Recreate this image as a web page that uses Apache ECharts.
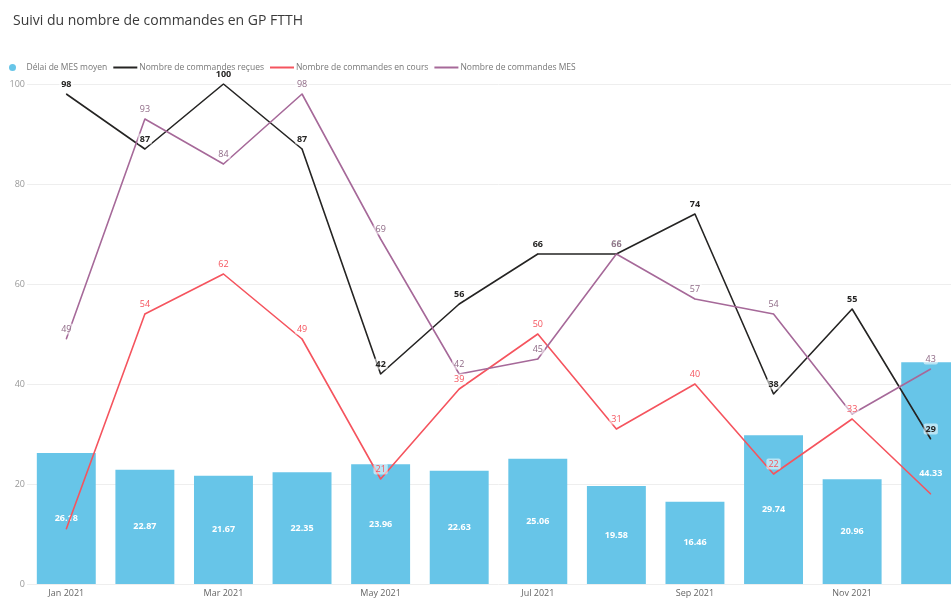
<!DOCTYPE html>
<html>
<head>
<meta charset="utf-8">
<script src="https://cdn.jsdelivr.net/npm/echarts@6/dist/echarts.min.js"></script>
<style>
html,body{margin:0;padding:0;background:#fff;overflow:hidden;width:951px;height:600px;}
#c{width:970px;height:600px;}
</style>
</head>
<body>
<div id="c"></div>
<script>
const months = ['Jan 2021','Feb 2021','Mar 2021','Apr 2021','May 2021','Jun 2021','Jul 2021','Aug 2021','Sep 2021','Oct 2021','Nov 2021','Dec 2021'];
const delaiMES = [26.18, 22.87, 21.67, 22.35, 23.96, 22.63, 25.06, 19.58, 16.46, 29.74, 20.96, 44.33];
const recues = [98, 87, 100, 87, 42, 56, 66, 66, 74, 38, 55, 29];
const enCours = [11, 54, 62, 49, 21, 39, 50, 31, 40, 22, 33, 18];
const mes = [49, 93, 84, 98, 69, 42, 45, 66, 57, 54, 34, 43];
// labels hidden in the reference (overlapping) : indices per series
const hiddenEnCours = [0, 11];
const hiddenMes = [10];
const yTicks = [0, 20, 40, 60, 80, 100];

const FONT = '"Open Sans", "Noto Sans", sans-serif';
const names = ['Délai de MES moyen','Nombre de commandes reçues','Nombre de commandes en cours','Nombre de commandes MES'];
const lineIcon = 'path://M0,0L24,0L24,2L0,2Z';

function withHidden(arr, hidden){
  return arr.map((v,i)=> hidden.indexOf(i)>=0 ? {value:v, label:{show:false}} : v);
}
function lineSeries(name, data, color, labelColor, bold){
  return {
    name: name, type: 'line', data: data,
    symbol: 'circle', symbolSize: 1, showSymbol: true,
    lineStyle: {color: color, width: 1.6},
    itemStyle: {color: color},
    label: {show: true, position: 'top', distance: 4, color: labelColor,
      fontSize: 9, fontFamily: FONT, fontWeight: bold ? 'bold' : 'normal',
      backgroundColor: 'rgba(255,255,255,0.55)', padding: [1,2], borderRadius: 2},
    z: 3
  };
}

const chart = echarts.init(document.getElementById('c'));
chart.setOption({
  animation: false,
  title: {text: 'Suivi du nombre de commandes en GP FTTH', left: 8, top: 9,
    textStyle: {fontSize: 14, fontWeight: 'normal', color: '#3a3a3a', fontFamily: FONT}},
  legend: {
    left: 4, top: 58, itemGap: 6, itemWidth: 24, itemHeight: 7, symbolKeepAspect: true,
    textStyle: {fontSize: 8.5, color: '#777', fontFamily: FONT, padding: [0,0,0,-3]},
    data: [{name: names[0], icon: 'circle'},
           {name: names[1], icon: lineIcon},
           {name: names[2], icon: lineIcon},
           {name: names[3], icon: lineIcon}]
  },
  grid: {left: 27, top: 84, right: 0, bottom: 16, containLabel: false},
  xAxis: {
    type: 'category', data: months,
    axisLine: {show: false}, axisTick: {show: false},
    axisLabel: {interval: 1, fontSize: 9, color: '#666', fontFamily: FONT, margin: 5}
  },
  yAxis: {
    type: 'value', min: yTicks[0], max: yTicks[yTicks.length-1], interval: 20,
    axisLine: {show: false}, axisTick: {show: false},
    axisLabel: {fontSize: 9, color: '#999', fontFamily: FONT, margin: 2},
    splitLine: {lineStyle: {color: '#eeeeee', width: 1}}
  },
  series: [
    {
      name: names[0], type: 'bar', data: delaiMES, barCategoryGap: '25%',
      itemStyle: {color: '#67C5E8'},
      label: {show: true, position: 'inside', color: '#fff', fontSize: 9,
        fontWeight: 'bold', fontFamily: FONT, formatter: p => p.value.toFixed(2)},
      z: 2
    },
    lineSeries(names[1], recues, '#252423', '#252423', true),
    lineSeries(names[2], withHidden(enCours, hiddenEnCours), '#F5545E', '#F5545E', false),
    lineSeries(names[3], withHidden(mes, hiddenMes), '#A66999', '#8f6a86', false)
  ]
});
</script>
</body>
</html>
